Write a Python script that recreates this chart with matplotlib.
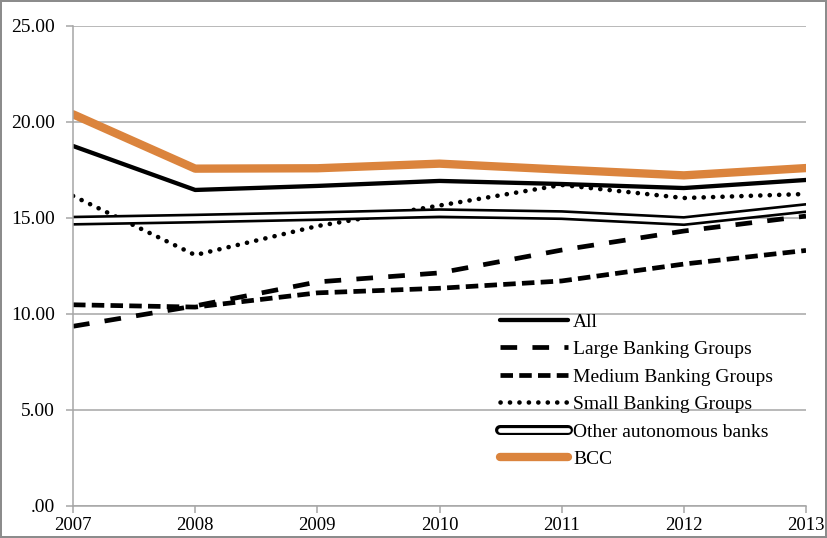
# -*- coding: utf-8 -*-
"""
Line chart of ratios by banking group, 2007-2013.
"""
from matplotlib import pyplot as plt
from matplotlib import ticker
from matplotlib import patheffects

years = [2007, 2008, 2009, 2010, 2011, 2012, 2013]

all_banks = [18.75, 16.46, 16.67, 16.93, 16.77, 16.56, 16.98]
large_groups = [9.36, 10.42, 11.67, 12.14, 13.33, 14.32, 15.10]
medium_groups = [10.48, 10.36, 11.10, 11.34, 11.72, 12.60, 13.31]
small_groups = [16.15, 13.07, 14.58, 15.65, 16.72, 16.04, 16.25]
other_autonomous = [14.86, 14.97, 15.10, 15.25, 15.15, 14.84, 15.52]
bcc = [20.40, 17.57, 17.59, 17.83, 17.52, 17.22, 17.60]

labels = ['All', 'Large Banking Groups', 'Medium Banking Groups',
          'Small Banking Groups', 'Other autonomous banks', 'BCC']

plt.rcParams['font.family'] = ['Liberation Serif', 'DejaVu Serif']
plt.rcParams['lines.scale_dashes'] = False

grey = '#a6a6a6'
orange = '#db843d'

fig = plt.figure(figsize=(8.27, 5.38), dpi=100,
                 edgecolor='#8c8c8c', linewidth=1.5)
ax = fig.add_axes([0.0883, 0.0595, 0.8863, 0.8922])

ax.plot(years, all_banks, color='black', lw=3.1, solid_capstyle='round',
        label=labels[0])
ax.plot(years, large_groups, color='black', lw=3.4, dashes=(12, 11),
        dash_capstyle='butt', label=labels[1])
ax.plot(years, medium_groups, color='black', lw=3.4, dashes=(9, 4.5),
        dash_capstyle='butt', label=labels[2])
ax.plot(years, small_groups, color='black', lw=3.3, dashes=(0.1, 6.7),
        dash_capstyle='round', label=labels[3])
# double line: white core with a black outline
ax.plot(years, other_autonomous, color='white', lw=3.4,
        solid_capstyle='round', label=labels[4],
        path_effects=[patheffects.Stroke(linewidth=7.2, foreground='black'),
                      patheffects.Normal()])
ax.plot(years, bcc, color=orange, lw=6.0, solid_capstyle='round',
        label=labels[5])

ax.set_xlim(2007, 2013)
ax.set_ylim(0, 25)
ax.set_xticks(years)
ax.set_yticks([0, 5, 10, 15, 20, 25])
ax.yaxis.set_major_formatter(
    ticker.FuncFormatter(lambda v, pos: ('%.2f' % v).lstrip('0')))
ax.xaxis.set_major_formatter(ticker.FuncFormatter(lambda v, pos: '%d' % v))

ax.grid(axis='y', color=grey, lw=1.1)
ax.set_axisbelow(True)
for side in ('top', 'right'):
    ax.spines[side].set_visible(False)
for side in ('left', 'bottom'):
    ax.spines[side].set_color(grey)
    ax.spines[side].set_linewidth(1.1)
ax.tick_params(axis='both', colors=grey, length=5, width=1.1,
               labelsize=14, labelcolor='black')
ax.tick_params(axis='y', pad=8)
ax.tick_params(axis='x', pad=3, labelsize=13.5)

ax.legend(loc='upper left', bbox_to_anchor=(0.5825, 0.402), frameon=False,
          fontsize=14, handlelength=3.5, handletextpad=0.26,
          labelspacing=0.51, borderpad=0, borderaxespad=0)

fig.savefig('out.png', dpi=100)
